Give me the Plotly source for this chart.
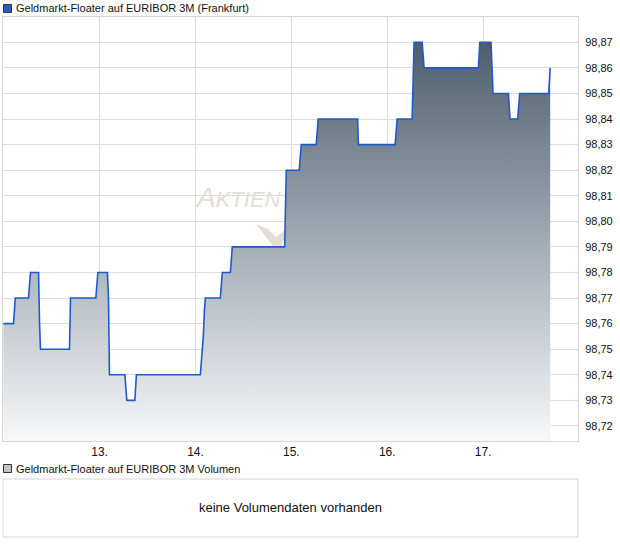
import plotly.graph_objects as go

# ---- data (day of month, fractional) ----
times = [11.996, 12.103, 12.121, 12.259, 12.280, 12.364, 12.374, 12.384, 12.686, 12.697,
         12.961, 12.982, 13.082, 13.093, 13.103, 13.264, 13.284, 13.368, 13.384,
         14.051, 14.061, 14.072, 14.082, 14.093, 14.103, 14.259, 14.280, 14.364, 14.384,
         14.930, 14.935, 14.941, 14.947, 15.082, 15.103, 15.259, 15.280, 15.691, 15.699,
         16.082, 16.103, 16.259, 16.270, 16.280, 16.364, 16.374, 16.384, 16.951, 16.965,
         17.082, 17.093, 17.103, 17.264, 17.280, 17.360, 17.381, 17.683, 17.699]
prices = [98.76, 98.76, 98.77, 98.77, 98.78, 98.78, 98.76, 98.75, 98.75, 98.77,
          98.77, 98.78, 98.78, 98.77, 98.74, 98.74, 98.73, 98.73, 98.74,
          98.74, 98.745, 98.75, 98.755, 98.765, 98.77, 98.77, 98.78, 98.78, 98.79,
          98.79, 98.80, 98.81, 98.82, 98.82, 98.83, 98.83, 98.84, 98.84, 98.83,
          98.83, 98.84, 98.84, 98.855, 98.87, 98.87, 98.865, 98.86, 98.86, 98.87,
          98.87, 98.86, 98.85, 98.85, 98.84, 98.84, 98.85, 98.85, 98.86]

tick_days = [13, 14, 15, 16, 17]
tick_labels = ["13.", "14.", "15.", "16.", "17."]
y_ticks = [98.72, 98.73, 98.74, 98.75, 98.76, 98.77, 98.78, 98.79, 98.80,
           98.81, 98.82, 98.83, 98.84, 98.85, 98.86, 98.87]

title_main = "Geldmarkt-Floater auf EURIBOR 3M (Frankfurt)"
title_vol = "Geldmarkt-Floater auf EURIBOR 3M Volumen"
no_vol = "keine Volumendaten vorhanden"

W, H = 620, 546
FONT = "Liberation Sans, Arial, sans-serif"

def px(x):
    return x / W

def py(y):
    return 1 - y / H

y_lo, y_hi = 98.7141, 98.8799

fig = go.Figure()
fig.add_trace(go.Scatter(
    x=times, y=prices, mode="lines",
    line=dict(color="#1f5bc6", width=1.6),
    fill="tozeroy",
    fillgradient=dict(type="vertical",
                      colorscale=[[0, "#f7f8f9"], [1, "#435466"]],
                      start=y_lo, stop=y_hi),
    hoverinfo="skip", showlegend=False,
))

fig.update_layout(
    width=W, height=H,
    margin=dict(l=0, r=0, t=0, b=0),
    paper_bgcolor="white", plot_bgcolor="white",
    separators=",.",
    font=dict(family=FONT, size=11, color="#111111"),
    xaxis=dict(domain=[px(3), px(578)], range=[11.993, 17.989],
               tickvals=tick_days, ticktext=tick_labels,
               showgrid=True, gridcolor="#dcdcdc", gridwidth=1,
               showline=True, mirror=True, linecolor="#d6d6d6", linewidth=1,
               ticks="", tickfont=dict(size=12, family=FONT, color="#111"),
               zeroline=False, fixedrange=True, automargin=False),
    yaxis=dict(domain=[py(441), py(17)], range=[y_lo, y_hi], side="right",
               tickvals=y_ticks, tickformat=".2f",
               showgrid=True, gridcolor="#dcdcdc", gridwidth=1,
               showline=True, mirror=True, linecolor="#d6d6d6", linewidth=1,
               ticks="outside", ticklen=4, tickcolor="white",
               tickfont=dict(size=11, family=FONT, color="#111"),
               zeroline=False, fixedrange=True, automargin=False),
)

shapes = []
annotations = []

# legend square + title top
shapes.append(dict(type="rect", xref="paper", yref="paper",
                   x0=px(3.5), x1=px(11.5), y0=py(12.5), y1=py(4.5),
                   fillcolor="#2a5bbd", line=dict(color="#333", width=1)))
annotations.append(dict(xref="paper", yref="paper", x=px(14), y=py(8.5),
                        xanchor="left", yanchor="middle", showarrow=False,
                        text=title_main, font=dict(size=11, family=FONT, color="#111")))

# volume legend
shapes.append(dict(type="rect", xref="paper", yref="paper",
                   x0=px(3.5), x1=px(11.5), y0=py(472.5), y1=py(464.5),
                   fillcolor="#c4c4c4", line=dict(color="#333", width=1)))
annotations.append(dict(xref="paper", yref="paper", x=px(14), y=py(468.5),
                        xanchor="left", yanchor="middle", showarrow=False,
                        text=title_vol, font=dict(size=11, family=FONT, color="#111")))

# volume box
shapes.append(dict(type="rect", xref="paper", yref="paper",
                   x0=px(3), x1=px(578), y0=py(537), y1=py(479),
                   fillcolor="white", line=dict(color="#d6d6d6", width=1)))
annotations.append(dict(xref="paper", yref="paper", x=px(290.5), y=py(507.5),
                        xanchor="center", yanchor="middle", showarrow=False,
                        text=no_vol, font=dict(size=13, family=FONT, color="#111")))

# watermark
annotations.append(dict(xref="paper", yref="paper", x=px(193), y=py(215),
                        xanchor="left", yanchor="bottom", showarrow=False,
                        text="<i><span style='font-size:28px'>A</span>KTIEN</i>",
                        font=dict(size=22, family=FONT, color="#e4ded7")))
chk = [(256, 224), (268, 229), (276, 237), (291, 225), (281, 246), (273, 246)]
path = "M " + " L ".join(f"{px(a)},{py(b)}" for a, b in chk) + " Z"
shapes.append(dict(type="path", xref="paper", yref="paper", path=path,
                   fillcolor="#e3ddd6", line=dict(width=0), layer="below"))

fig.update_layout(shapes=shapes, annotations=annotations)
fig.write_html("out.html", config={"displayModeBar": False},
               post_script="document.body.style.margin='0';document.body.style.padding='0';")
